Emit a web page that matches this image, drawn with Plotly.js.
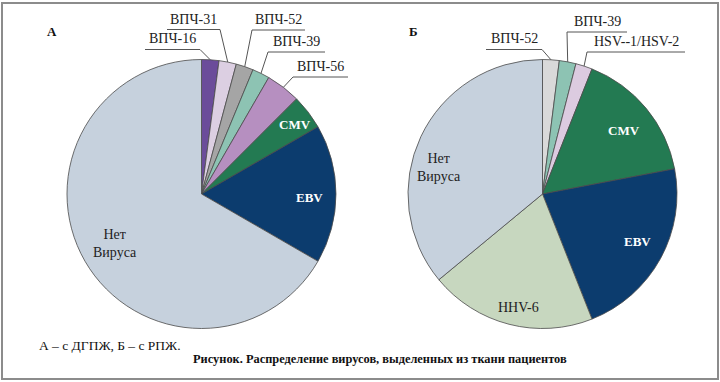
<!DOCTYPE html>
<html>
<head>
<meta charset="utf-8">
<script src="https://cdn.plot.ly/plotly-3.0.1.min.js"></script>
<style>html,body{margin:0;padding:0;background:#fff;}#chart{width:720px;height:382px;}</style>
</head>
<body>
<div id="chart"></div>
<script>
// ---- data ----
const labelsA = ['ВПЧ-16', 'ВПЧ-31', 'ВПЧ-52', 'ВПЧ-39', 'ВПЧ-56', 'CMV', 'EBV', 'Нет Вируса'];
const valuesA = [1, 1, 1, 1, 2, 2, 8, 32];
const labelsB = ['ВПЧ-52', 'ВПЧ-39', 'HSV--1/HSV-2', 'CMV', 'EBV', 'HHV-6', 'Нет Вируса'];
const valuesB = [1, 1, 1, 8, 11, 10, 18];
const panelA = 'А';
const panelB = 'Б';
const note = 'А – с ДГПЖ, Б – с РПЖ.';
const caption = 'Рисунок. Распределение вирусов, выделенных из ткани пациентов';

// ---- style ----
const W = 720, H = 382;
const FONT = 'Liberation Serif';
const colorMap = {
  'ВПЧ-16': '#6b4c9a', 'ВПЧ-31': '#dccfe2', 'ВПЧ-52': '#a5a5a5', 'ВПЧ-39': '#8dc3b3',
  'ВПЧ-56': '#b68fc0', 'CMV': '#237a52', 'EBV': '#0c3c6e', 'Нет Вируса': '#c6d1dd',
  'HSV--1/HSV-2': '#dccbe0', 'HHV-6': '#c7d7bf'
};
const colorsA = labelsA.map(l => colorMap[l]);
const colorsB = labelsB.map(l => l === 'ВПЧ-52' ? '#d9d9d9' : colorMap[l]);

const domA = {x: [67 / W, 336 / W], y: [1 - 328.5 / H, 1 - 59.5 / H]};
const domB = {x: [408 / W, 677 / W], y: [1 - 328.5 / H, 1 - 59.5 / H]};

// outside label placement (pixels): underline xl, xr, y; leader attaches to 'l' or 'r' end
const outA = {
  'ВПЧ-16': {xl: 145, xr: 200, y: 49.5, end: 'r'},
  'ВПЧ-31': {xl: 167, xr: 220, y: 29.5, end: 'r'},
  'ВПЧ-52': {xl: 252, xr: 305, y: 30, end: 'l'},
  'ВПЧ-39': {xl: 268, xr: 325, y: 52, end: 'l'},
  'ВПЧ-56': {xl: 293, xr: 348, y: 77, end: 'l'}
};
const outB = {
  'ВПЧ-52': {xl: 486, xr: 542, y: 49.5, end: 'r'},
  'ВПЧ-39': {xl: 567, xr: 627, y: 32, end: 'l'},
  'HSV--1/HSV-2': {xl: 587, xr: 685, y: 52, end: 'l'}
};
// inside label placement: radius fraction, angle offset, style
const inA = {
  'CMV': {f: 0.87, d: 0.8, c: '#fff', b: true},
  'EBV': {f: 0.80, d: 1.8, c: '#fff', b: true},
  'Нет Вируса': {f: 0.74, d: 0.3, c: '#222', b: false}
};
const inB = {
  'CMV': {f: 0.77, d: 1.9, c: '#fff', b: true},
  'EBV': {f: 0.79, d: -2.5, c: '#fff', b: true},
  'HHV-6': {f: 0.86, d: -2.6, c: '#222', b: false},
  'Нет Вируса': {f: 0.79, d: -11, c: '#222', b: false}
};

const shapes = [{type: 'rect', xref: 'paper', yref: 'paper', x0: 2 / W, x1: 718 / W, y0: 1 - 379 / H, y1: 1 - 3 / H,
  line: {color: '#8c8c8c', width: 2}, fillcolor: 'rgba(0,0,0,0)'}];
const annotations = [];

function px(x) { return x / W; }
function py(y) { return 1 - y / H; }

function decorate(labels, values, dom, outCfg, inCfg) {
  const cxp = (dom.x[0] + dom.x[1]) / 2 * W;
  const cyp = (1 - (dom.y[0] + dom.y[1]) / 2) * H;
  const r = Math.min((dom.x[1] - dom.x[0]) * W, (dom.y[1] - dom.y[0]) * H) / 2;
  const total = values.reduce((a, b) => a + b, 0);
  let cum = 0;
  labels.forEach((lab, i) => {
    const mid = (cum + values[i] / 2) / total * 360;
    cum += values[i];
    if (outCfg[lab]) {
      const o = outCfg[lab];
      const th = mid * Math.PI / 180;
      const ex = cxp + r * Math.sin(th), ey = cyp - r * Math.cos(th);
      const ax = o.end === 'r' ? o.xr : o.xl;
      shapes.push({type: 'line', xref: 'paper', yref: 'paper', x0: px(ex), y0: py(ey), x1: px(ax), y1: py(o.y),
        line: {color: '#555', width: 1}});
      shapes.push({type: 'line', xref: 'paper', yref: 'paper', x0: px(o.xl), y0: py(o.y), x1: px(o.xr), y1: py(o.y),
        line: {color: '#555', width: 1}});
      annotations.push({xref: 'paper', yref: 'paper', x: px((o.xl + o.xr) / 2), y: py(o.y - 1),
        xanchor: 'center', yanchor: 'bottom', showarrow: false, text: lab,
        font: {family: FONT, size: 14, color: '#222'}});
    }
    if (inCfg[lab]) {
      const c = inCfg[lab];
      const th = (mid + c.d) * Math.PI / 180;
      const x = cxp + c.f * r * Math.sin(th), y = cyp - c.f * r * Math.cos(th);
      const t = lab.replace(' ', '<br>');
      annotations.push({xref: 'paper', yref: 'paper', x: px(x), y: py(y), xanchor: 'center', yanchor: 'middle',
        showarrow: false, text: c.b ? '<b>' + t + '</b>' : t,
        font: {family: FONT, size: c.b ? 13 : 14, color: c.c}});
    }
  });
}
decorate(labelsA, valuesA, domA, outA, inA);
decorate(labelsB, valuesB, domB, outB, inB);

annotations.push({xref: 'paper', yref: 'paper', x: px(52), y: py(32), xanchor: 'center', yanchor: 'middle',
  showarrow: false, text: '<b>' + panelA + '</b>', font: {family: FONT, size: 13, color: '#111'}});
annotations.push({xref: 'paper', yref: 'paper', x: px(413), y: py(32), xanchor: 'center', yanchor: 'middle',
  showarrow: false, text: '<b>' + panelB + '</b>', font: {family: FONT, size: 13, color: '#111'}});
annotations.push({xref: 'paper', yref: 'paper', x: px(37), y: py(345), xanchor: 'left', yanchor: 'middle',
  showarrow: false, text: note, font: {family: FONT, size: 13.5, color: '#111'}});
annotations.push({xref: 'paper', yref: 'paper', x: px(380), y: py(359), xanchor: 'center', yanchor: 'middle',
  showarrow: false, text: '<b>' + caption + '</b>', font: {family: FONT, size: 12.4, color: '#111'}});

const common = {type: 'pie', sort: false, direction: 'clockwise', rotation: 0, textinfo: 'none',
  hoverinfo: 'skip', showlegend: false};
const data = [
  Object.assign({}, common, {labels: labelsA, values: valuesA, domain: domA,
    marker: {colors: colorsA, line: {color: '#4a4a4a', width: 0.8}}}),
  Object.assign({}, common, {labels: labelsB, values: valuesB, domain: domB,
    marker: {colors: colorsB, line: {color: '#4a4a4a', width: 0.8}}})
];
const layout = {width: W, height: H, margin: {l: 0, r: 0, t: 0, b: 0}, paper_bgcolor: '#fff',
  plot_bgcolor: '#fff', font: {family: FONT}, shapes: shapes, annotations: annotations, showlegend: false};
Plotly.newPlot('chart', data, layout, {staticPlot: true, displayModeBar: false});
</script>
</body>
</html>
